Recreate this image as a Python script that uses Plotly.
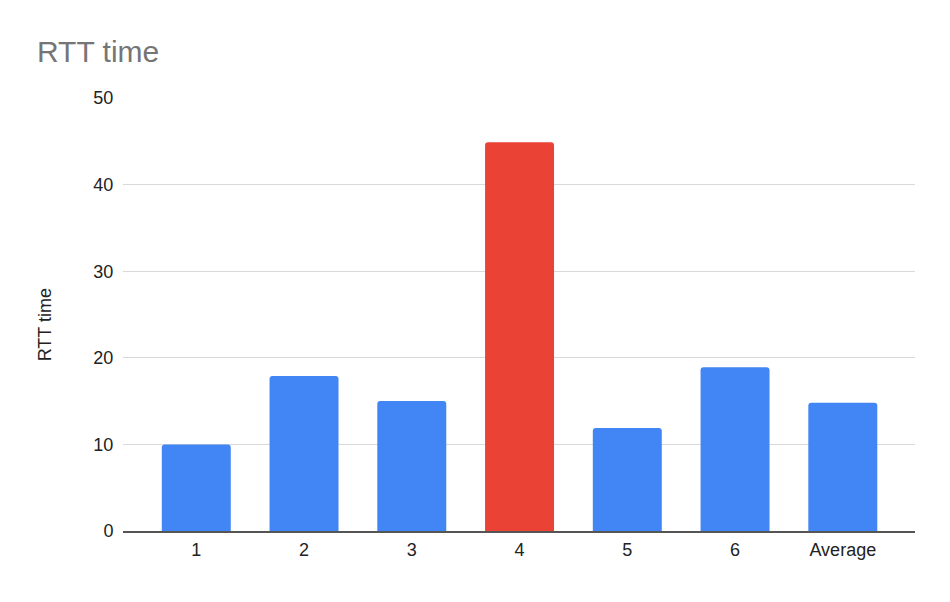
import plotly.graph_objects as go

# chart data
categories = ["1", "2", "3", "4", "5", "6", "Average"]
rtt_values = [10, 17.9, 15, 44.9, 11.9, 18.9, 14.8]
bar_colors = ["#4285F4", "#4285F4", "#4285F4", "#EA4335", "#4285F4", "#4285F4", "#4285F4"]
y_ticks = [0, 10, 20, 30, 40, 50]

FONT = "Liberation Sans, Arial, sans-serif"

# page body adds an 8px offset, so margins are shifted to compensate
OFF = 8

fig = go.Figure(
    go.Bar(
        x=categories,
        y=rtt_values,
        marker=dict(color=bar_colors, line=dict(width=0), cornerradius=3),
        hoverinfo="x+y",
    )
)

fig.update_layout(
    width=950,
    height=602,
    paper_bgcolor="white",
    plot_bgcolor="white",
    margin=dict(l=123 - OFF, r=35 + OFF, t=98 - OFF, b=71 + OFF),
    bargap=0.36,
    showlegend=False,
    font=dict(family=FONT, size=18, color="#222222"),
    title=dict(
        text="RTT time",
        font=dict(family=FONT, size=30, color="#757575"),
        xref="container", yref="container",
        x=(37 - OFF) / 950, xanchor="left",
        y=1 - (51 - OFF) / 602, yanchor="middle",
    ),
)

fig.update_xaxes(
    type="category",
    range=[-0.68, 6.67],
    showgrid=False,
    showline=True,
    linecolor="#555555",
    linewidth=1.5,
    ticks="outside",
    ticklen=2,
    tickcolor="rgba(0,0,0,0)",
    tickfont=dict(size=18, color="#222222"),
)

fig.update_yaxes(
    range=[0, 50],
    tickvals=y_ticks,
    showgrid=True,
    gridcolor="#d9d9d9",
    gridwidth=1,
    zeroline=False,
    showline=False,
    ticks="outside",
    ticklen=5,
    tickcolor="rgba(0,0,0,0)",
    tickfont=dict(size=18, color="#222222"),
)

fig.add_annotation(
    text="RTT time",
    textangle=-90,
    xref="paper", yref="paper",
    x=(45 - 123) / 792, y=0.475,
    xanchor="center", yanchor="middle",
    showarrow=False,
    font=dict(family=FONT, size=18, color="#222222"),
)

fig.write_html("out.html")
